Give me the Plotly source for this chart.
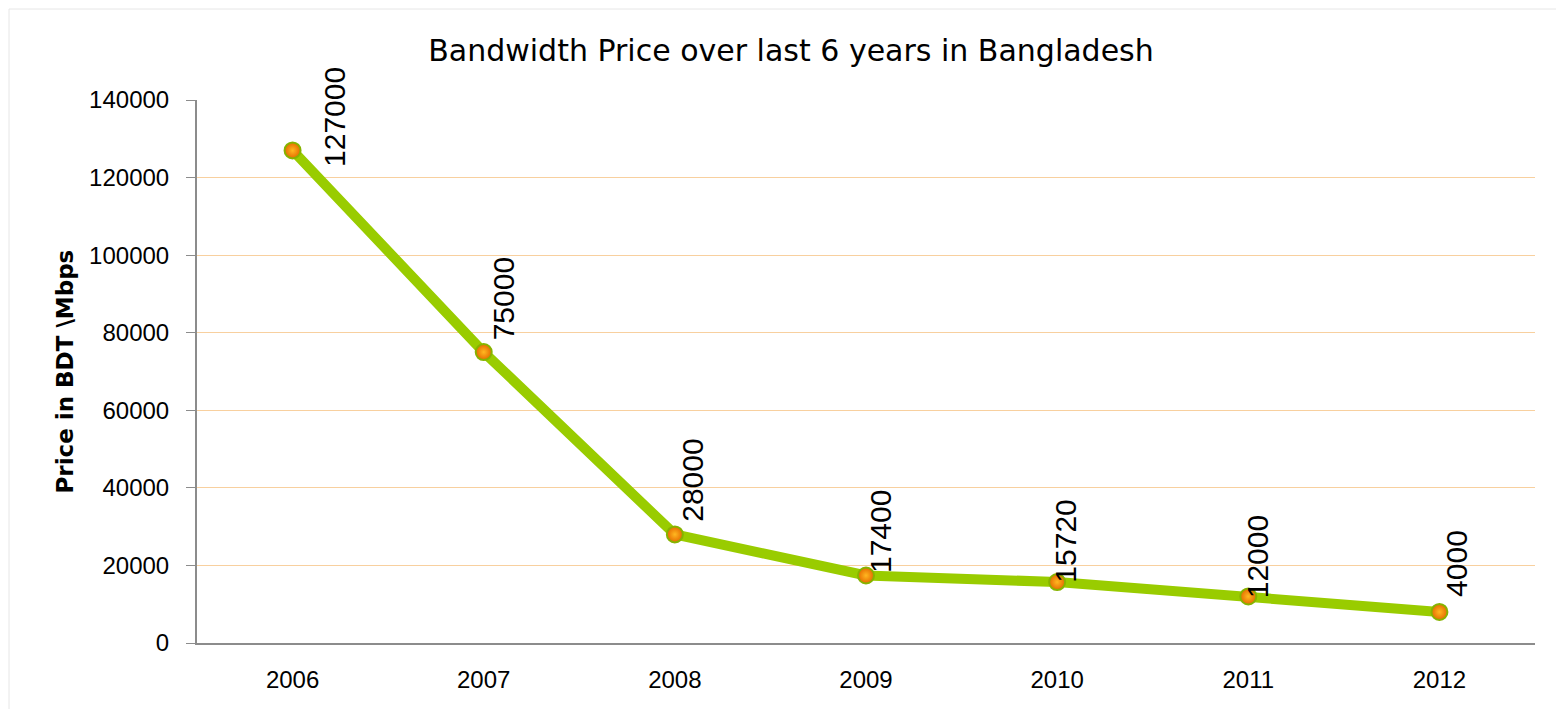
import plotly.graph_objects as go

# ---- data ----
years = ["2006", "2007", "2008", "2009", "2010", "2011", "2012"]
prices = [127000, 75000, 28000, 17400, 15720, 12000, 8000]
price_labels = ["127000", "75000", "28000", "17400", "15720", "12000", "4000"]
y_ticks = [0, 20000, 40000, 60000, 80000, 100000, 120000, 140000]

# ---- styling ----
OFF = 8  # page body margin
W, H = 1556, 701
ML, MR, MT, MB = 189, 29, 92, 66
LABEL_DX = [42, 20, 18, 14, 8, 10, 17]
LABEL_DY = [-19, 10, 11, 0, -3, -4, 13]
FONT = "Liberation Sans, Arial, sans-serif"

fig = go.Figure()
fig.add_trace(go.Scatter(
    x=years, y=prices, mode="lines+markers",
    line=dict(color="#99cc00", width=10),
    marker=dict(size=16, color="#e56b00",
                gradient=dict(type="radial", color="#ffb820"),
                line=dict(color="#86b300", width=2)),
    hoverinfo="x+y", showlegend=False,
))

for i, (v, lab) in enumerate(zip(prices, price_labels)):
    fig.add_annotation(
        x=i, y=v, text=lab, showarrow=False, textangle=-90,
        xanchor="center", yanchor="bottom",
        xshift=LABEL_DX[i], yshift=LABEL_DY[i],
        font=dict(family=FONT, size=30, color="#000000"),
    )

pw = W - ML - MR
ph = H - MT - MB
# y-axis title
fig.add_annotation(
    xref="paper", yref="paper", x=(56 - ML) / pw, y=0.5,
    text="<b>Price in BDT \\Mbps</b>", textangle=-90, showarrow=False,
    xanchor="center", yanchor="middle",
    font=dict(family="DejaVu Sans, sans-serif", size=23, color="#000000"),
)

# faint chart edge (top and left visible)
bx0, by_top = (1 - ML) / pw, (H - MB - 1) / ph
fig.add_shape(type="line", xref="paper", yref="paper",
              x0=bx0, x1=(W - ML) / pw, y0=by_top, y1=by_top,
              line=dict(color="#e6e6e6", width=1), layer="below")
fig.add_shape(type="line", xref="paper", yref="paper",
              x0=bx0, x1=bx0, y0=-MB / ph, y1=by_top,
              line=dict(color="#e6e6e6", width=1), layer="below")

fig.update_layout(
    width=W, height=H,
    margin=dict(l=ML, r=MR, t=MT, b=MB),
    paper_bgcolor="white", plot_bgcolor="white",
    title=dict(text="Bandwidth Price over last 6 years in Bangladesh",
               x=(791 - OFF) / W, xref="container", xanchor="center",
               y=1 - (50 - OFF) / H, yref="container", yanchor="middle",
               font=dict(family="DejaVu Sans, sans-serif", size=30, color="#000000")),
    xaxis=dict(type="category", range=[-0.5, len(years) - 0.5],
               showgrid=False, showline=True,
               linecolor="#8c8c8c", linewidth=2, ticks="",
               tickfont=dict(family=FONT, size=24, color="#000000"),
               ticklabelstandoff=14, zeroline=False),
    yaxis=dict(range=[0, 140000], tickvals=y_ticks, tickformat="d",
               showgrid=True, gridcolor="#f8d09f", gridwidth=1,
               showline=True, linecolor="#8c8c8c", linewidth=2,
               ticks="outside", ticklen=9, tickcolor="#8c8c8c",
               tickfont=dict(family=FONT, size=24, color="#000000"),
               ticklabelstandoff=12, zeroline=False),
)

fig.write_html("out.html")
